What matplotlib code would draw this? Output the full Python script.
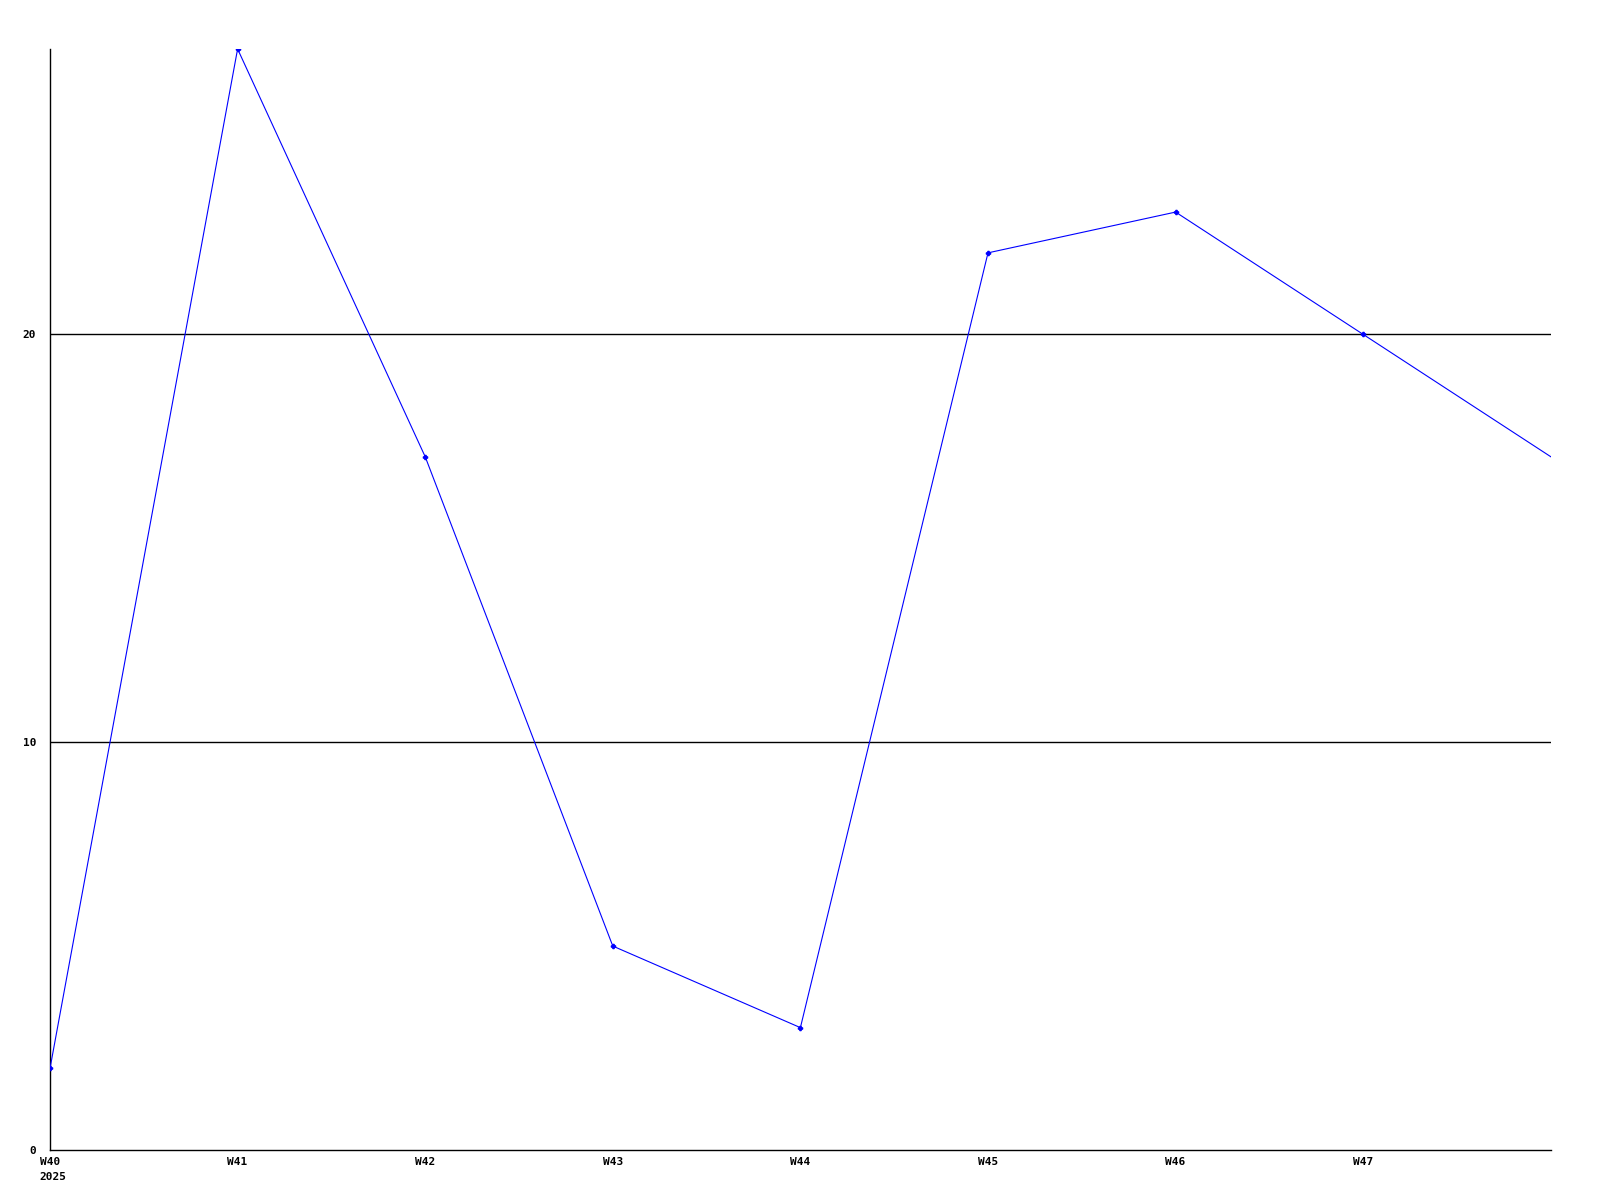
import matplotlib
matplotlib.use('Agg')
import matplotlib.pyplot as plt

# data
weeks = [0, 1, 2, 3, 4, 5, 6, 7, 8]
values = [2, 27, 17, 5, 3, 22, 23, 20, 17]
tick_pos = [0, 1, 2, 3, 4, 5, 6, 7]
tick_labels = ['W40', 'W41', 'W42', 'W43', 'W44', 'W45', 'W46', 'W47']
year_label = '2025'
y_ticks = [0, 10, 20]

fig = plt.figure(figsize=(16, 12), dpi=100)
ax = fig.add_axes([0.03125, 0.0417, 0.938, 0.9175])

for y in y_ticks[1:]:
    ax.axhline(y, color='black', linewidth=1.0, zorder=1)

ax.plot(weeks, values, color='#0000ff', linewidth=0.8, marker='P', markersize=3,
        markevery=slice(0, len(weeks) - 1), zorder=3)

ax.set_xlim(0, 8)
ax.set_ylim(0, 27)
ax.set_xticks(tick_pos)
ax.set_xticklabels(tick_labels)
ax.set_yticks(y_ticks)
ax.set_yticklabels([str(v) for v in y_ticks])

fnt = dict(family='DejaVu Sans Mono', weight='bold', size=8)
for lab in ax.get_xticklabels() + ax.get_yticklabels():
    lab.set_fontfamily(fnt['family'])
    lab.set_fontweight(fnt['weight'])
    lab.set_fontsize(fnt['size'])
ax.tick_params(axis='both', length=0)
ax.tick_params(axis='x', pad=5)
ax.tick_params(axis='y', pad=10)

ax.text(-0.055, -0.55, year_label, ha='left', va='top', fontsize=8,
        fontweight='bold', family='DejaVu Sans Mono')

for s in ['top', 'right']:
    ax.spines[s].set_visible(False)
for s in ['left', 'bottom']:
    ax.spines[s].set_color('black')
    ax.spines[s].set_linewidth(1.0)

fig.savefig('out.png', dpi=100)
